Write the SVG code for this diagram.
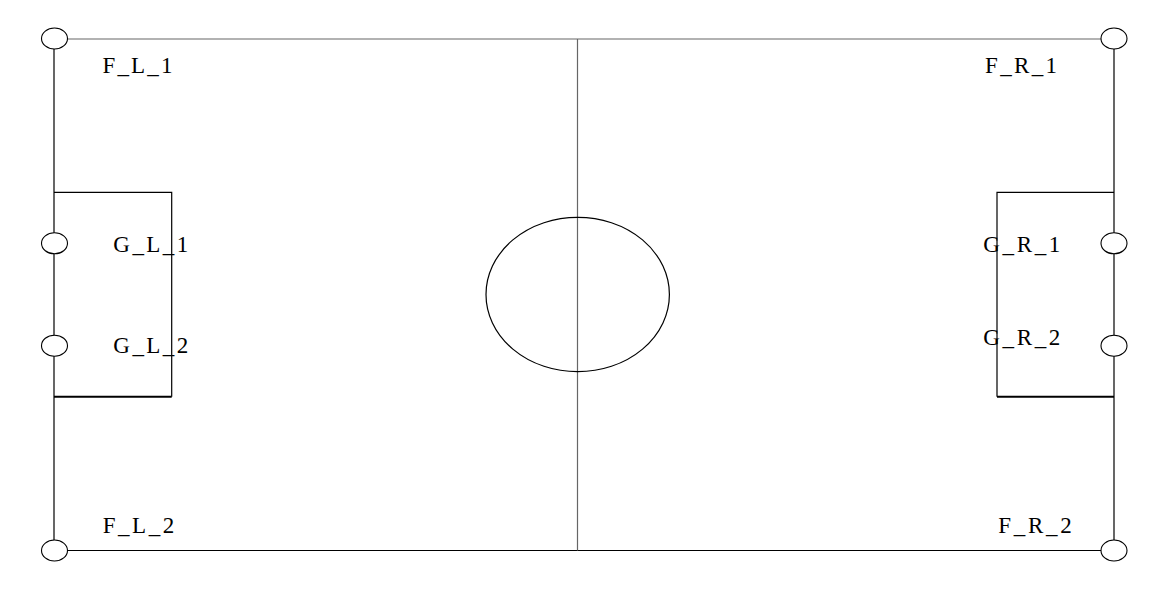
<svg xmlns="http://www.w3.org/2000/svg" width="1165" height="591" viewBox="0 0 1165 591">
<style>
.ln{stroke:#000;stroke-width:1.2;fill:none}
.gr{stroke:#666;stroke-width:1.2;fill:none}
.thick{stroke:#000;stroke-width:2;fill:none}
.nd{fill:#fff;stroke:#000;stroke-width:1.1}
.lb{font-family:"Liberation Serif","Times New Roman",serif;font-size:23px;fill:#000}
</style>
<rect width="1165" height="591" fill="#fff"/>
<g id="connectors">
<line class="gr" x1="54" y1="39" x2="1114" y2="39"/>
<line class="ln" x1="54" y1="550.5" x2="1114" y2="550.5"/>
<line class="ln" x1="54" y1="39" x2="54" y2="550.5"/>
<line class="ln" x1="1114" y1="39" x2="1114" y2="550.5"/>
<line class="gr" x1="577.5" y1="39" x2="577.5" y2="550.5"/>
<ellipse class="ln" cx="577.7" cy="294.5" rx="91.7" ry="77.2"/>
<path class="ln" d="M54 192.3 H171.7 V396.7"/>
<line class="thick" x1="54" y1="396.7" x2="171.7" y2="396.7"/>
<path class="ln" d="M1114 192.3 H997 V396.7"/>
<line class="thick" x1="997" y1="396.7" x2="1114" y2="396.7"/>
</g>
<g id="F_L_1"><ellipse class="nd" cx="54.5" cy="38.5" rx="13" ry="10.5"/><text class="lb" x="102.5" y="72.5" textLength="70" lengthAdjust="spacing">F_L_1</text></g>
<g id="F_R_1"><ellipse class="nd" cx="1114" cy="38.5" rx="13" ry="10.5"/><text class="lb" x="985" y="72.5" textLength="72" lengthAdjust="spacing">F_R_1</text></g>
<g id="G_L_1"><ellipse class="nd" cx="54.5" cy="243.3" rx="13" ry="10.5"/><text class="lb" x="113.3" y="251.5" textLength="75" lengthAdjust="spacing">G_L_1</text></g>
<g id="G_L_2"><ellipse class="nd" cx="54.5" cy="345.7" rx="13" ry="10.5"/><text class="lb" x="113.3" y="352.5" textLength="75" lengthAdjust="spacing">G_L_2</text></g>
<g id="G_R_1"><ellipse class="nd" cx="1114" cy="243.3" rx="13" ry="10.5"/><text class="lb" x="983.3" y="251.5" textLength="77" lengthAdjust="spacing">G_R_1</text></g>
<g id="G_R_2"><ellipse class="nd" cx="1114" cy="345.7" rx="13" ry="10.5"/><text class="lb" x="983.3" y="345" textLength="77" lengthAdjust="spacing">G_R_2</text></g>
<g id="F_L_2"><ellipse class="nd" cx="54.5" cy="550.5" rx="13" ry="10.5"/><text class="lb" x="102.7" y="532.5" textLength="71.5" lengthAdjust="spacing">F_L_2</text></g>
<g id="F_R_2"><ellipse class="nd" cx="1114" cy="550.5" rx="13" ry="10.5"/><text class="lb" x="998.3" y="532.5" textLength="73.5" lengthAdjust="spacing">F_R_2</text></g>
</svg>
